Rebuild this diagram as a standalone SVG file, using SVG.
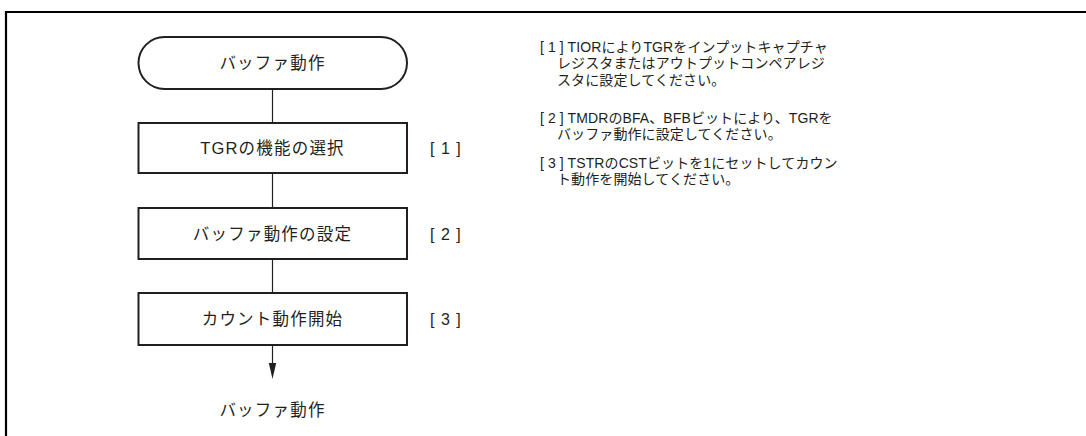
<svg xmlns="http://www.w3.org/2000/svg" width="1086" height="436" viewBox="0 0 1086 436">
<style>
.box{fill:#fff;stroke:#231f20;stroke-width:2}
.ln{stroke:#231f20;stroke-width:1.2;fill:none}
.frame{stroke:#000;stroke-width:2.2;fill:none}
.t{font-family:"Liberation Sans","Noto Sans CJK JP",sans-serif;font-size:16.5px;fill:#231f20;letter-spacing:1.2px}
.lb{font-family:"Liberation Sans","Noto Sans CJK JP",sans-serif;font-size:16px;fill:#231f20;letter-spacing:1px}
.n{font-family:"Liberation Sans","Noto Sans CJK JP",sans-serif;font-size:14px;fill:#231f20;letter-spacing:0.1px}
</style>
<path class="frame" d="M6,436 V12 H1086"/>
<g id="connectors">
<line class="ln" x1="272.5" y1="89" x2="272.5" y2="123"/>
<line class="ln" x1="272.5" y1="173" x2="272.5" y2="208"/>
<line class="ln" x1="272.5" y1="259" x2="272.5" y2="293"/>
<line class="ln" x1="272.5" y1="345" x2="272.5" y2="366"/>
<polygon points="268.8,363 276.2,363 272.5,379" fill="#231f20"/>
</g>
<g id="start">
<rect class="box" x="138.5" y="37" width="268.5" height="52" rx="26" ry="26"/>
<text class="t" x="272.5" y="63" text-anchor="middle" dominant-baseline="central">バッファ動作</text>
</g>
<g id="step1">
<rect class="box" x="138.5" y="123" width="268.5" height="50"/>
<text class="t" x="272.5" y="148" text-anchor="middle" dominant-baseline="central">TGRの機能の選択</text>
<text class="lb" x="430" y="148" dominant-baseline="central">[ 1 ]</text>
</g>
<g id="step2">
<rect class="box" x="138.5" y="208" width="268.5" height="51"/>
<text class="t" x="272.5" y="234" text-anchor="middle" dominant-baseline="central">バッファ動作の設定</text>
<text class="lb" x="430" y="234" dominant-baseline="central">[ 2 ]</text>
</g>
<g id="step3">
<rect class="box" x="138.5" y="293" width="268.5" height="52"/>
<text class="t" x="272.5" y="319" text-anchor="middle" dominant-baseline="central">カウント動作開始</text>
<text class="lb" x="430" y="319" dominant-baseline="central">[ 3 ]</text>
</g>
<g id="end">
<text class="t" x="272.5" y="410" text-anchor="middle" dominant-baseline="central">バッファ動作</text>
</g>
<g id="notes">
<text class="n" x="540" y="47" dominant-baseline="central">[ 1 ] TIORによりTGRをインプットキャプチャ</text>
<text class="n" x="557" y="63" dominant-baseline="central">レジスタまたはアウトプットコンペアレジ</text>
<text class="n" x="557" y="80" dominant-baseline="central">スタに設定してください。</text>
<text class="n" x="540" y="118" dominant-baseline="central">[ 2 ] TMDRのBFA、BFBビットにより、TGRを</text>
<text class="n" x="557" y="134" dominant-baseline="central">バッファ動作に設定してください。</text>
<text class="n" x="540" y="163" dominant-baseline="central">[ 3 ] TSTRのCSTビットを1にセットしてカウン</text>
<text class="n" x="557" y="179" dominant-baseline="central">ト動作を開始してください。</text>
</g>
</svg>
